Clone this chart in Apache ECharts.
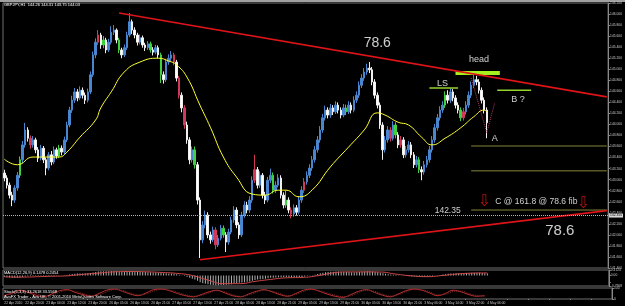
<!DOCTYPE html>
<html><head><meta charset="utf-8">
<script src="https://cdn.jsdelivr.net/npm/echarts@6/dist/echarts.min.js"></script>
<style>html,body{margin:0;padding:0;background:#000;overflow:hidden}#c{width:625px;height:306px}</style>
</head><body><div id="c"></div><script>
// ---------- data ----------
const timeLabels = ["22 Apr 2010","22 Apr 20:00","23 Apr 04:00","23 Apr 12:00","23 Apr 20:00","26 Apr 05:00","26 Apr 13:00","26 Apr 21:00","27 Apr 05:00","27 Apr 13:00","27 Apr 21:00","28 Apr 05:00","28 Apr 13:00","28 Apr 21:00","29 Apr 05:00","29 Apr 13:00","29 Apr 21:00","30 Apr 05:00","30 Apr 13:00","30 Apr 21:00","3 May 06:00","3 May 14:00","3 May 22:00","4 May 06:00"];
const barSlots = 232;
const open = [143.12,143.03,142.90,142.72,142.63,142.85,143.08,143.36,143.63,143.90,
143.75,143.63,143.72,143.54,143.39,143.57,143.36,143.21,143.45,143.32,
143.54,143.43,143.57,143.50,143.72,143.99,144.26,144.44,144.59,144.48,
144.62,144.53,144.44,144.59,144.90,145.26,145.49,145.62,145.44,145.53,
145.35,145.49,145.67,145.71,145.53,145.35,145.26,145.39,145.62,145.86,
145.71,145.62,145.49,145.57,145.44,145.39,145.46,145.35,145.31,145.39,
145.26,144.90,144.81,145.13,145.20,145.26,145.13,144.84,144.53,144.30,
143.99,143.72,143.36,143.54,143.27,142.63,141.91,142.18,142.36,142.00,
141.91,142.09,141.82,141.94,142.12,142.00,141.87,142.05,142.27,142.45,
142.18,142.00,142.36,142.54,142.45,142.63,142.99,143.18,142.90,143.08,
142.72,142.63,142.99,143.08,142.81,142.90,143.03,142.72,142.54,142.63,
142.45,142.38,142.49,142.41,142.63,142.81,142.96,143.08,143.21,143.36,
143.54,143.72,143.90,144.12,144.26,144.17,144.30,144.23,144.35,144.26,
144.17,144.30,144.23,144.35,144.26,144.44,144.53,144.71,144.84,144.95,
145.02,144.99,144.77,144.53,144.35,143.99,143.54,143.72,143.90,143.75,
143.99,143.81,143.63,143.72,143.45,143.54,143.63,143.45,143.27,143.36,
143.18,143.14,143.27,143.36,143.54,143.72,143.94,144.12,144.26,144.35,
144.53,144.44,144.59,144.48,144.35,144.26,144.12,144.23,144.35,144.53,
144.71,144.81,144.77,144.62,144.44,144.26];
const close = [143.03,142.90,142.72,142.63,142.85,143.08,143.36,143.63,143.90,143.75,
143.63,143.72,143.54,143.39,143.57,143.36,143.21,143.45,143.32,143.54,
143.43,143.57,143.50,143.72,143.99,144.26,144.44,144.59,144.48,144.62,
144.53,144.44,144.59,144.90,145.26,145.49,145.62,145.44,145.53,145.35,
145.49,145.67,145.71,145.53,145.35,145.26,145.39,145.62,145.86,145.71,
145.62,145.49,145.57,145.44,145.39,145.46,145.35,145.31,145.39,145.26,
144.90,144.81,145.13,145.20,145.26,145.13,144.84,144.53,144.30,143.99,
143.72,143.36,143.54,143.27,142.63,141.91,142.18,142.36,142.00,141.91,
142.09,141.82,141.94,142.12,142.00,141.87,142.05,142.27,142.45,142.18,
142.00,142.36,142.54,142.45,142.63,142.99,143.18,142.90,143.08,142.72,
142.63,142.99,143.08,142.81,142.90,143.03,142.72,142.54,142.63,142.45,
142.38,142.49,142.41,142.63,142.81,142.96,143.08,143.21,143.36,143.54,
143.72,143.90,144.12,144.26,144.17,144.30,144.23,144.35,144.26,144.17,
144.30,144.23,144.35,144.26,144.44,144.53,144.71,144.84,144.95,145.02,
144.99,144.77,144.53,144.35,143.99,143.54,143.72,143.90,143.75,143.99,
143.81,143.63,143.72,143.45,143.54,143.63,143.45,143.27,143.36,143.18,
143.14,143.27,143.36,143.54,143.72,143.94,144.12,144.26,144.35,144.53,
144.44,144.59,144.48,144.35,144.26,144.12,144.23,144.35,144.53,144.71,
144.81,144.77,144.62,144.44,144.26,144.03];
const high = [143.18,143.08,142.95,142.78,142.90,143.14,143.42,143.70,144.03,143.95,
143.80,143.79,143.76,143.59,143.63,143.61,143.40,143.50,143.52,143.60,
143.58,143.63,143.62,143.78,144.05,144.32,144.52,144.66,144.64,144.69,
144.67,144.58,144.65,144.96,145.32,145.56,145.71,145.66,145.60,145.57,
145.55,145.78,145.80,145.74,145.57,145.39,145.45,145.68,146.02,145.90,
145.76,145.66,145.63,145.61,145.48,145.51,145.50,145.40,145.44,145.43,
145.30,144.96,145.19,145.27,145.33,145.30,145.17,144.88,144.58,144.35,
144.05,143.77,143.60,143.60,143.32,142.68,142.25,142.44,142.41,142.06,
142.15,142.14,142.00,142.18,142.17,142.05,142.11,142.33,142.52,142.50,
142.23,142.42,142.61,142.60,142.70,143.06,143.45,143.23,143.15,143.12,
142.78,143.05,143.20,143.13,142.97,143.10,143.08,142.77,142.80,142.68,
142.50,142.55,142.54,142.70,142.88,143.03,143.15,143.28,143.43,143.61,
143.79,143.97,144.19,144.34,144.31,144.37,144.35,144.42,144.40,144.31,
144.37,144.36,144.42,144.40,144.51,144.60,144.78,144.91,145.02,145.10,
145.13,145.04,144.82,144.58,144.40,144.04,143.79,143.97,143.95,144.06,
144.04,143.86,143.79,143.77,143.61,143.70,143.68,143.50,143.43,143.41,
143.24,143.34,143.43,143.61,143.79,144.01,144.19,144.33,144.42,144.60,
144.62,144.66,144.64,144.53,144.40,144.31,144.30,144.42,144.60,144.78,
144.90,144.88,144.82,144.67,144.49,144.31];
const low = [142.97,142.84,142.66,142.52,142.58,142.80,143.03,143.30,143.58,143.69,
143.56,143.58,143.48,143.32,143.35,143.30,143.08,143.17,143.26,143.28,
143.38,143.39,143.44,143.46,143.68,143.95,144.21,144.39,144.42,144.44,
144.47,144.37,144.40,144.55,144.86,145.20,145.44,145.37,145.38,145.29,
145.31,145.45,145.62,145.47,145.29,145.20,145.22,145.35,145.58,145.64,
145.56,145.43,145.45,145.39,145.33,145.35,145.30,145.25,145.27,145.20,
144.75,144.74,144.77,145.08,145.15,145.07,144.78,144.47,144.22,143.92,
143.65,143.28,143.31,143.20,142.55,141.58,141.85,142.12,141.94,141.84,
141.87,141.74,141.78,141.90,141.95,141.69,141.82,142.01,142.22,142.12,
141.93,141.96,142.31,142.39,142.40,142.58,142.94,142.84,142.85,142.66,
142.56,142.59,142.94,142.75,142.76,142.86,142.66,142.48,142.49,142.39,
142.30,142.33,142.35,142.37,142.58,142.76,142.91,143.03,143.16,143.31,
143.49,143.67,143.85,144.07,144.11,144.12,144.17,144.19,144.20,144.11,
144.13,144.17,144.19,144.20,144.22,144.39,144.48,144.66,144.79,144.90,
144.93,144.71,144.47,144.29,143.92,143.36,143.49,143.67,143.69,143.71,
143.75,143.57,143.58,143.39,143.40,143.49,143.39,143.21,143.22,143.12,
142.99,143.09,143.22,143.31,143.49,143.67,143.89,144.07,144.21,144.30,
144.38,144.39,144.42,144.29,144.20,144.06,144.07,144.18,144.30,144.48,
144.66,144.71,144.56,144.38,144.20,143.75];
const greenBars = [6,21,38,44,56,60,73,84,103,108,131,150,159,169,175];
const redBars = [10,36,65,67,69,81,96,110,115,148,152,176];
const maIdx = [0,5,11,17,21,24,29,35,37,41,46,52,59,63,66,70,75,79,84,89,95,100,105,108,113,118,125,132,138,143,146,151,155,160,164,169,175,180,184,185];
const maVal = [143.37,143.27,143.41,143.41,143.41,143.50,143.77,144.08,144.30,144.59,144.95,145.13,145.20,145.15,145.08,144.86,144.35,143.95,143.41,143.05,142.74,142.72,142.81,142.81,142.69,142.81,143.23,143.59,143.90,144.21,144.17,144.04,143.99,143.77,143.63,143.75,143.94,144.14,144.26,144.23];
const upperTrendIdx = [44,231];
const upperTrendPrice = [146.02,144.50];
const lowerTrendIdx = [75,231];
const lowerTrendPrice = [141.55,142.44];
const lsIdx = [163,174], lsPrice = 144.66;
const headIdx = [173,190], headPrice = 144.93;
const bIdx = [189,202], bPrice = 144.62;
const feIdx = [179,231];
const feLevels = [143.61,143.16,142.45];
const feNames = ["FE 61.8","FE 100.0","FE 161.8"];
const zigIdx = [179,185,188];
const zigPrice = [144.84,143.85,144.39];
const targetLevel = 142.35;
const lastPrice = 144.03;
const noteText = ["78.6","head","LS","B ?","A","C @ 161.8 @ 78.6 fib","142.35","78.6"];
const noteIdx = [142.6,182,167.9,197.2,188.1,203.6,169.6,212.8];
const notePrice = [145.48,145.17,144.75,144.46,143.75,142.60,142.43,142.07];
const noteSize = [14,9,9,9,9,8.5,8.5,15];
const arrowIdx = [184.0,222.3];
const arrowPrice = [142.60,142.56];
const macdHist = [-0.12,-0.13,-0.15,-0.17,-0.18,-0.17,-0.15,-0.12,-0.08,-0.06,
-0.05,-0.04,-0.04,-0.05,-0.05,-0.06,-0.07,-0.06,-0.05,-0.04,
-0.03,-0.02,-0.01,0.01,0.04,0.08,0.11,0.13,0.14,0.15,
0.15,0.15,0.16,0.19,0.23,0.27,0.30,0.31,0.32,0.32,
0.32,0.33,0.33,0.32,0.30,0.28,0.27,0.28,0.30,0.31,
0.30,0.29,0.28,0.27,0.26,0.25,0.24,0.23,0.22,0.21,
0.18,0.16,0.16,0.15,0.14,0.13,0.10,0.06,0.02,-0.04,
-0.10,-0.18,-0.24,-0.30,-0.40,-0.52,-0.58,-0.62,-0.66,-0.70,
-0.72,-0.74,-0.74,-0.73,-0.72,-0.71,-0.69,-0.66,-0.62,-0.58,
-0.56,-0.54,-0.51,-0.48,-0.45,-0.40,-0.35,-0.31,-0.28,-0.26,
-0.24,-0.21,-0.18,-0.17,-0.15,-0.13,-0.13,-0.14,-0.14,-0.15,
-0.16,-0.16,-0.16,-0.14,-0.11,-0.08,-0.05,-0.02,0.02,0.06,
0.11,0.16,0.21,0.25,0.27,0.28,0.28,0.29,0.29,0.28,
0.27,0.26,0.26,0.25,0.25,0.26,0.27,0.28,0.30,0.31,
0.31,0.30,0.28,0.25,0.21,0.16,0.12,0.09,0.07,0.05,
0.03,0.01,-0.01,-0.03,-0.05,-0.06,-0.07,-0.08,-0.09,-0.10,
-0.11,-0.11,-0.10,-0.08,-0.05,-0.02,0.01,0.04,0.07,0.10,
0.12,0.14,0.15,0.16,0.16,0.16,0.17,0.18,0.19,0.20,
0.21,0.21,0.20,0.19,0.17,0.14];
const sigIdx = [0,6,12,18,24,30,36,42,48,54,60,66,72,78,84,90,96,102,108,114,120,126,132,138,144,150,156,162,168,174,180,185];
const sigVal = [-0.10,-0.13,-0.10,-0.06,-0.03,0.08,0.18,0.27,0.30,0.28,0.23,0.16,0.00,-0.35,-0.62,-0.62,-0.45,-0.30,-0.18,-0.15,-0.02,0.20,0.27,0.27,0.26,0.10,-0.03,-0.09,0.00,0.12,0.18,0.19];
const macdMin = -0.7968, macdMax = 0.4124;
const stochIdx = [0,3,6,9,12,15,18,21,24,27,30,33,36,39,42,45,48,51,54,57,60,63,66,69,72,75,78,81,84,87,90,93,96,99,102,105,108,111,114,117,120,123,126,129,132,135,138,141,144,147,150,153,156,159,162,165,168,171,174,177,180,183];
const stochMain = [30,55,80,60,35,20,45,75,85,60,40,25,50,80,90,70,45,30,55,85,90,75,50,30,20,40,65,80,55,30,20,45,70,85,65,40,25,50,80,90,70,45,25,15,40,70,85,60,35,20,45,75,90,80,55,30,50,80,65,40,25,30];
const stochSig = [35,45,65,68,50,30,35,60,78,70,50,32,40,65,85,78,55,38,45,72,88,80,60,40,26,32,55,75,65,40,25,36,60,78,72,50,32,40,68,85,78,55,35,22,30,58,78,70,45,28,38,65,85,84,65,40,42,68,72,50,32,28];
const titleText = "GBPJPY,H1  144.26 144.31 143.75 144.03";
const macdText = "MACD(12,26,9) 0.1478 0.2454";
const stochText = "Stoch(5,3,3) 33.2618 33.5568";
const footText = "AvaFX Trader - Ava UK, \u00a9 2001-2010 MetaQuotes Software Corp.";

// ---------- build ----------
const cats = [];
for (let i = 0; i < barSlots; i++) cats.push(String(i));
const styleOf = c => ({color:c,color0:c,borderColor:c,borderColor0:c});
const candles = open.map((o,i) => {
  const it = {value:[o, close[i], low[i], high[i]]};
  if (greenBars.includes(i)) it.itemStyle = styleOf('#3fd23f');
  else if (redBars.includes(i)) it.itemStyle = styleOf('#d2385a');
  return it;
});
const pairs = (xs, ys) => xs.map((x,i) => [x, Array.isArray(ys) ? ys[i] : ys]);
const labelColor = '#c8c8c8';
const ff = 'Liberation Sans';
const tiny = 3.3;
const small = 4;

const series = [
  {type:'candlestick', xAxisIndex:0, yAxisIndex:0, data:candles, barWidth:2,
   itemStyle:{color:'#4a86cf',color0:'#ffffff',borderColor:'#4a86cf',borderColor0:'#f0f0f0',borderWidth:1},
   markLine:{silent:true, symbol:['none','none'], animation:false,
     data:[
       {yAxis:lastPrice, lineStyle:{opacity:0}, label:{show:true,position:'end',formatter:lastPrice.toFixed(3),backgroundColor:'#ffffff',color:'#000',fontSize:tiny,padding:[1,1,0,1],distance:1,fontFamily:ff}},
       {yAxis:targetLevel, lineStyle:{type:'dotted',color:'#b4b4b4',width:1,opacity:1}, label:{show:true,position:'end',formatter:targetLevel.toFixed(3),backgroundColor:'#d8d8d8',color:'#000',fontSize:tiny,padding:[1,1,0,1],distance:1,fontFamily:ff}}
     ]}},
  {type:'line', xAxisIndex:0, yAxisIndex:0, data:pairs(maIdx, maVal), smooth:0.5, symbol:'none', lineStyle:{color:'#ffff30',width:1}, z:3},
  {type:'line', xAxisIndex:0, yAxisIndex:0, data:pairs(upperTrendIdx, upperTrendPrice), symbol:'none', lineStyle:{color:'#e01418',width:1.6}, z:4},
  {type:'line', xAxisIndex:0, yAxisIndex:0, data:pairs(lowerTrendIdx, lowerTrendPrice), symbol:'none', lineStyle:{color:'#e01418',width:1.6}, z:4},
  {type:'line', xAxisIndex:0, yAxisIndex:0, data:pairs(lsIdx, lsPrice), symbol:'none', lineStyle:{color:'#94d22c',width:1.5}, z:4},
  {type:'line', xAxisIndex:0, yAxisIndex:0, data:pairs(headIdx, headPrice), symbol:'none', lineStyle:{color:'#a6f01e',width:4}, z:3},
  {type:'line', xAxisIndex:0, yAxisIndex:0, data:pairs(bIdx, bPrice), symbol:'none', lineStyle:{color:'#94d22c',width:1.5}, z:4},
  {type:'line', xAxisIndex:0, yAxisIndex:0, data:pairs(zigIdx, zigPrice), symbol:'none', lineStyle:{color:'#b03a5a',width:1,type:'dotted'}, z:4}
];
feLevels.forEach((lv, k) => {
  series.push({type:'line', xAxisIndex:0, yAxisIndex:0, symbol:'none', z:2,
    lineStyle:{color:'#85853a',width:1},
    data:[[feIdx[0], lv], {value:[feIdx[1], lv], label:{show:true, position:[-14,-4], formatter:feNames[k], color:'#a8a83c', fontSize:3, fontFamily:ff}}]});
});
const clear = 'rgba(0,0,0,0)';
series.push({type:'scatter', xAxisIndex:0, yAxisIndex:0, symbol:'circle', symbolSize:1, itemStyle:{color:clear}, z:6,
  data: noteText.map((t,i) => ({name:t, value:[noteIdx[i], notePrice[i]], label:{show:true, position:'inside', formatter:'{b}', color:'#ffffff', fontSize:noteSize[i], fontFamily:ff}}))});
series.push({type:'scatter', xAxisIndex:0, yAxisIndex:0, symbol:'circle', symbolSize:1, itemStyle:{color:clear}, z:6,
  data: arrowIdx.map((x,i) => ({name:'\u21e9', value:[x, arrowPrice[i]], label:{show:true, position:'inside', formatter:'{b}', color:'#e01818', fontSize:16, fontFamily:'DejaVu Sans'}}))});
series.push({type:'bar', xAxisIndex:1, yAxisIndex:1, data:macdHist, barWidth:1, itemStyle:{color:'#b0b0b0'}});
series.push({type:'line', xAxisIndex:1, yAxisIndex:1, data:pairs(sigIdx, sigVal), smooth:0.5, symbol:'none', lineStyle:{color:'#d04848',width:1}});
series.push({type:'line', xAxisIndex:2, yAxisIndex:2, data:pairs(stochIdx, stochMain), smooth:0.4, symbol:'none', lineStyle:{color:'#c03030',width:1}});
series.push({type:'line', xAxisIndex:2, yAxisIndex:2, data:pairs(stochIdx, stochSig), smooth:0.4, symbol:'none', lineStyle:{color:'#7a2a2a',width:1,type:'dotted'}});

const gridBase = {left:3, right:13, show:true, borderColor:'#707070', borderWidth:1, backgroundColor:'#000'};
const xBase = {type:'category', data:cats, boundaryGap:true, axisLine:{show:false}, axisTick:{show:false}, axisLabel:{show:false}, splitLine:{show:false}};
const yBase = {type:'value', position:'right', scale:true, splitLine:{show:false},
  axisLine:{show:true, lineStyle:{color:'#8a8a8a'}}, axisTick:{show:true, length:2, lineStyle:{color:'#8a8a8a'}},
  axisLabel:{color:labelColor, fontSize:tiny, margin:2, fontFamily:ff}};

const option = {
  backgroundColor:'#000', animation:false,
  grid:[Object.assign({top:3, height:265}, gridBase), Object.assign({top:270, height:16}, gridBase), Object.assign({top:288, height:11}, gridBase)],
  xAxis:[Object.assign({gridIndex:0}, xBase), Object.assign({gridIndex:1}, xBase),
    Object.assign({}, xBase, {gridIndex:2, axisTick:{show:true, length:1, interval:7, lineStyle:{color:'#8a8a8a'}},
      axisLabel:{show:true, interval:7, align:'left', fontSize:tiny, margin:2.5, color:labelColor, fontFamily:ff,
      formatter:(v, idx) => timeLabels[idx/8] || ''}})],
  yAxis:[
    Object.assign({}, yBase, {gridIndex:0, min:141.4, max:146.2, interval:0.2, axisLabel:Object.assign({}, yBase.axisLabel, {formatter:v => v.toFixed(3)})}),
    Object.assign({}, yBase, {gridIndex:1, min:macdMin, max:macdMax, splitNumber:2, axisLabel:Object.assign({}, yBase.axisLabel, {showMinLabel:true, showMaxLabel:true,
      formatter:v => (Math.abs(v - macdMax) < 1e-6 ? macdMax.toFixed(4) : Math.abs(v - macdMin) < 1e-6 ? macdMin.toFixed(4) : v === 0 ? '0.00' : '')})}),
    Object.assign({}, yBase, {gridIndex:2, min:0, max:100, interval:100})
  ],
  graphic:[
    {type:'rect', shape:{x:0, y:0, width:625, height:2}, style:{fill:'#a0a0a0'}, silent:true},
    {type:'text', x:4, y:3, style:{text:titleText, fill:'#ffffff', fontSize:small, fontFamily:ff}, z:10},
    {type:'text', x:4, y:270.5, style:{text:macdText, fill:'#ffffff', fontSize:small, fontFamily:ff}, z:10},
    {type:'text', x:4, y:289.5, style:{text:stochText, fill:'#ffffff', fontSize:small, fontFamily:ff}, z:10},
    {type:'text', x:4, y:295, style:{text:footText, fill:'#ffffff', fontSize:small, fontFamily:ff}, z:10}
  ],
  series: series
};
const chart = echarts.init(document.getElementById('c'), null, {renderer:'canvas'});
chart.setOption(option);
</script></body></html>
